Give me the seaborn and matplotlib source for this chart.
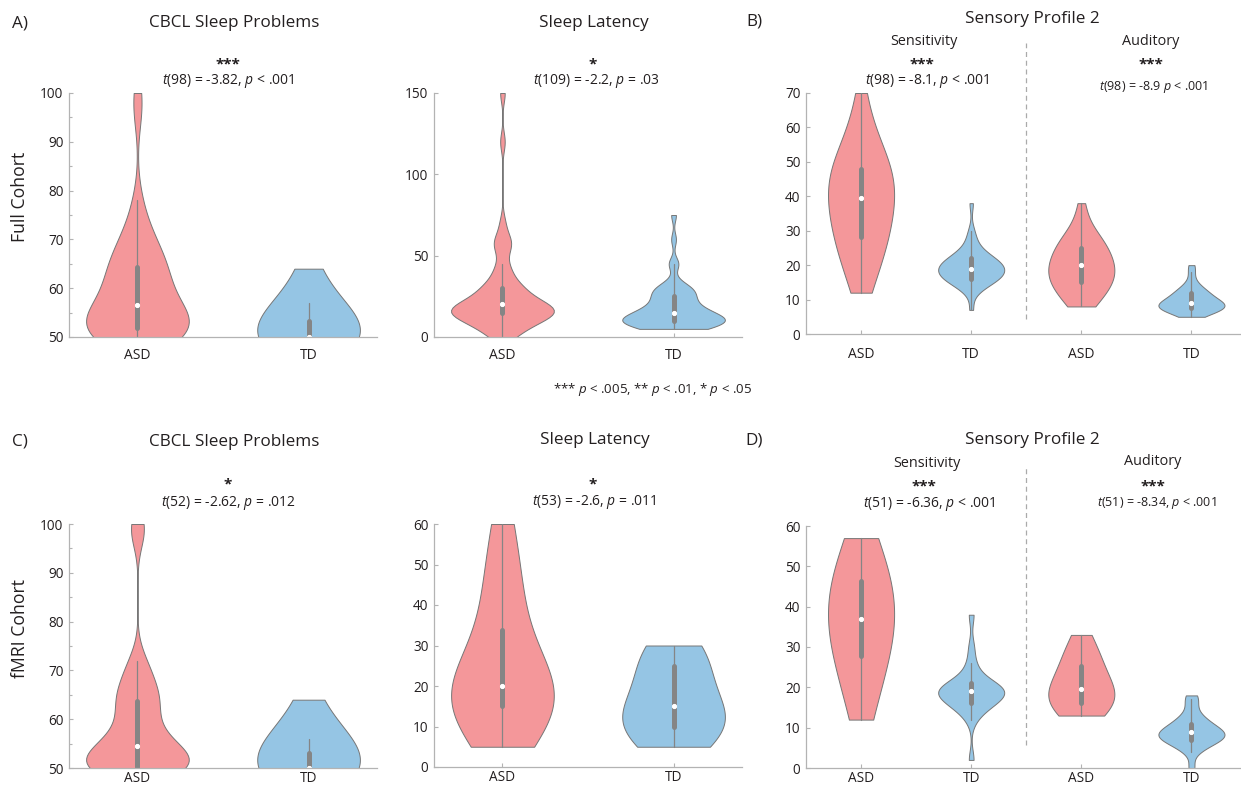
import matplotlib
matplotlib.use("Agg")
import matplotlib.pyplot as plt
import seaborn as sns
from matplotlib.ticker import MultipleLocator

# ---------------- data ----------------
groups = ["ASD", "TD"]
sp2_keys = ["Sens_ASD", "Sens_TD", "Aud_ASD", "Aud_TD"]
sp2_labels = ["ASD", "TD", "ASD", "TD"]

full_cbcl_asd = [50]*6 + [51]*5 + [52]*3 + [53]*2 + [54, 54, 55, 55, 56, 56, 57, 58, 58, 59, 60, 61, 62,
                 63, 63, 64, 64, 65, 66, 67, 68, 69, 70, 72, 74, 78, 96, 100]
full_cbcl_td = [50]*22 + [51]*3 + [52]*3 + [53]*2 + [54, 55, 56, 57, 59, 60, 61, 62, 63, 64]

full_lat_asd = [0, 0, 5, 5, 5, 5] + [10]*5 + [15]*12 + [20]*8 + [25]*3 + [30]*5 + \
               [35, 40, 40, 45, 55, 55, 60, 60, 70, 120, 150]
full_lat_td = [5]*8 + [10]*14 + [15]*9 + [20]*5 + [25]*5 + [30]*5 + [35, 45, 45, 60, 75]

full_sens_asd = [12, 14, 15, 17, 19, 21, 23, 24, 25, 26, 27, 28, 29, 30, 31, 32, 33, 34, 35, 36, 37, 38, 39,
                 40, 40, 41, 42, 43, 44, 45, 45, 46, 47, 48, 48, 49, 50, 51, 52, 53, 55, 57, 59, 62, 66, 70]
full_sens_td = [7, 12, 13, 14, 15, 15, 15, 16, 16, 16, 16, 17, 17, 17, 18, 18, 18, 18, 19, 19, 19, 19,
                20, 20, 20, 20, 21, 21, 21, 22, 22, 22, 23, 23, 24, 25, 26, 28, 30, 38]
full_aud_asd = [8, 8, 9, 10, 10, 11, 12, 13, 13, 14, 14, 15, 15, 15, 16, 16, 17, 17, 18, 18, 18, 19, 20, 20,
                20, 21, 21, 21, 22, 22, 23, 24, 25, 25, 25, 26, 26, 27, 28, 28, 29, 30, 32, 35, 38]
full_aud_td = [5, 6, 6, 7, 7, 7, 7, 7, 8, 8, 8, 8, 8, 9, 9, 9, 9, 9, 10, 10, 10, 11, 12, 12, 12, 12,
               13, 14, 15, 18, 20]

fmri_cbcl_asd = [50]*8 + [51, 51, 52, 52, 53, 54, 54, 55, 56, 57, 58, 60, 62, 63, 64, 65, 66, 68, 70, 72, 98, 100]
fmri_cbcl_td = [50]*13 + [51, 51, 52, 52, 53, 53, 55, 56, 58, 60, 62, 64]

fmri_lat_asd = [5, 5, 10, 10, 10] + [15]*5 + [20]*5 + [25, 25, 30, 30, 35, 40, 45, 45, 50, 60, 60]
fmri_lat_td = [5]*4 + [10]*6 + [12] + [15]*4 + [17, 20, 20] + [25]*4 + [30]*4

fmri_sens_asd = [12, 14, 17, 20, 22, 25, 27, 28, 30, 31, 33, 35, 36, 37, 37, 38, 40, 41, 42, 45, 46, 47,
                 48, 50, 52, 54, 56, 57]
fmri_sens_td = [2, 12, 14, 15, 16, 16, 16, 17, 18, 18, 18, 19, 19, 19, 19, 20, 20, 20, 21, 21, 22, 24, 26, 30, 38]
fmri_aud_asd = [13, 13, 14, 15, 15, 15, 16, 16, 17, 17, 18, 18, 19, 19, 20, 20, 21, 22, 23, 24, 25, 26,
                27, 28, 29, 30, 32, 33]
fmri_aud_td = [0, 4, 5, 6, 6, 7, 7, 7, 8, 8, 8, 8, 9, 9, 9, 10, 10, 10, 11, 12, 12, 13, 15, 17, 18]

# ---------------- style ----------------
ASD_C = "#F4979A"
TD_C = "#95C5E4"
TXT = "#231f20"
SPINE = "#b3b3b3"

sns.set_theme(style="ticks")
plt.rcParams["font.family"] = ["Open Sans", "DejaVu Sans"]
plt.rcParams["mathtext.fontset"] = "custom"
plt.rcParams["mathtext.it"] = "Open Sans:italic"
plt.rcParams["mathtext.rm"] = "Open Sans"
plt.rcParams["mathtext.bf"] = "Open Sans:bold"

W, H = 1241, 789
fig = plt.figure(figsize=(W / 100, H / 100), dpi=100)
fig.patch.set_facecolor("white")


def add_ax(l, t, r, b):
    return fig.add_axes([l / W, 1 - b / H, (r - l) / W, (b - t) / H])


def violin(ax, values, key, order, color, bw):
    sns.violinplot(x=[key] * len(values), y=values, order=order, color=color, ax=ax,
                   width=0.6, cut=0, density_norm="width", bw_adjust=bw, saturation=1,
                   inner="box",
                   inner_kws=dict(box_width=3.6, whis_width=0.9, marker="o", color="#858585"),
                   linecolor="#767676", linewidth=0.7)


def style(ax, ylim, yticks, xlim, xlabels, minor=None, xpad=8, xsize=10):
    ax.set_ylim(*ylim)
    ax.set_yticks(yticks)
    ax.set_xlim(*xlim)
    ax.set_xticks(range(len(xlabels)))
    ax.set_xticklabels(xlabels)
    if minor:
        ax.yaxis.set_minor_locator(MultipleLocator(minor))
    for s in ["top", "right"]:
        ax.spines[s].set_visible(False)
    for s in ["left", "bottom"]:
        ax.spines[s].set_color(SPINE)
        ax.spines[s].set_linewidth(0.9)
    ax.tick_params(axis="y", which="major", direction="in", length=3, width=0.8, color=SPINE,
                   labelsize=9.8, labelcolor=TXT, pad=4, left=True)
    ax.tick_params(axis="y", which="minor", direction="in", length=2.5, width=0.8, color=SPINE, left=True)
    ax.tick_params(axis="x", direction="in", length=3, width=0.8, color=SPINE,
                   labelsize=xsize, labelcolor=TXT, pad=xpad, bottom=True)
    ax.set_xlabel("")
    ax.set_ylabel("")
    ax.set_facecolor("none")


def T(x, y, s, size, **kw):
    fig.text(x / W, 1 - y / H, s, ha=kw.pop("ha", "center"), va=kw.pop("va", "baseline"),
             fontsize=size, color=TXT, **kw)


def stat(t_df, t_val, p_txt):
    return r"$t$" + f"({t_df}) = {t_val}, " + r"$p$" + f" {p_txt}"


# ---------------- Row 1: full cohort ----------------
ax = add_ax(69, 93, 377, 337)
violin(ax, full_cbcl_asd, "ASD", groups, ASD_C, 0.85)
violin(ax, full_cbcl_td, "TD", groups, TD_C, 3.0)
style(ax, (50, 100), [50, 60, 70, 80, 90, 100], (-0.4, 1.4), groups, minor=5)

ax = add_ax(434, 93, 742, 337)
violin(ax, full_lat_asd, "ASD", groups, ASD_C, 0.45)
violin(ax, full_lat_td, "TD", groups, TD_C, 0.6)
style(ax, (0, 150), [0, 50, 100, 150], (-0.4, 1.4), groups)

ax = add_ax(806, 93, 1241, 334)
violin(ax, full_sens_asd, "Sens_ASD", sp2_keys, ASD_C, 1.3)
violin(ax, full_sens_td, "Sens_TD", sp2_keys, TD_C, 0.9)
violin(ax, full_aud_asd, "Aud_ASD", sp2_keys, ASD_C, 1.2)
violin(ax, full_aud_td, "Aud_TD", sp2_keys, TD_C, 1.0)
style(ax, (0, 70), [0, 10, 20, 30, 40, 50, 60, 70], (-0.5, 3.45), sp2_labels, xpad=9)
ax.plot([1.5, 1.5], [(334 - 319) / 241, (334 - 43) / 241], transform=ax.get_xaxis_transform(),
        clip_on=False, color="#aaaaaa", lw=0.9, ls=(0, (4, 3)))

# ---------------- Row 2: fMRI cohort ----------------
ax = add_ax(69, 524, 377, 768)
violin(ax, fmri_cbcl_asd, "ASD", groups, ASD_C, 0.55)
violin(ax, fmri_cbcl_td, "TD", groups, TD_C, 3.0)
style(ax, (50, 100), [50, 60, 70, 80, 90, 100], (-0.4, 1.4), groups, minor=5, xpad=2, xsize=9.8)

ax = add_ax(434, 524, 742, 767)
violin(ax, fmri_lat_asd, "ASD", groups, ASD_C, 1.2)
violin(ax, fmri_lat_td, "TD", groups, TD_C, 1.4)
style(ax, (0, 60), [0, 10, 20, 30, 40, 50, 60], (-0.4, 1.4), groups, xpad=2, xsize=9.8)

ax = add_ax(806, 526, 1241, 768)
violin(ax, fmri_sens_asd, "Sens_ASD", sp2_keys, ASD_C, 1.6)
violin(ax, fmri_sens_td, "Sens_TD", sp2_keys, TD_C, 0.7)
violin(ax, fmri_aud_asd, "Aud_ASD", sp2_keys, ASD_C, 1.5)
violin(ax, fmri_aud_td, "Aud_TD", sp2_keys, TD_C, 0.8)
style(ax, (0, 60), [0, 10, 20, 30, 40, 50, 60], (-0.5, 3.45), sp2_labels, xpad=2, xsize=9.8)
ax.plot([1.5, 1.5], [(768 - 745) / 242, (768 - 467) / 242], transform=ax.get_xaxis_transform(),
        clip_on=False, color="#aaaaaa", lw=0.9, ls=(0, (4, 3)))

# ---------------- text ----------------
TS = 12.3
# row 1
T(20, 27, "A)", TS)
T(234, 27, "CBCL Sleep Problems", TS)
T(228, 68, "***", 11, weight="bold")
T(228, 84, stat(98, "-3.82", "< .001"), 10)
T(594, 27, "Sleep Latency", TS)
T(593, 68, "*", 11, weight="bold")
T(596, 84, stat(109, "-2.2", "= .03"), 10)
T(652, 393, r"*** $p$ < .005, ** $p$ < .01, * $p$ < .05", 9.5)
T(754, 26, "B)", TS)
T(1032, 23, "Sensory Profile 2", TS)
T(924, 45, "Sensitivity", 10.4)
T(922, 68, "***", 11, weight="bold")
T(927, 84, stat(98, "-8.1", "< .001"), 10)
T(1151, 45, "Auditory", 10.4)
T(1151, 68, "***", 11, weight="bold")
T(1154, 90, r"$t$(98) = -8.9 $p$ < .001", 9)
fig.text(20 / W, 1 - 197 / H, "Full Cohort", rotation=90, ha="center", va="center", fontsize=12.7, color=TXT)

# row 2
T(20, 445, "C)", TS)
T(234, 446, "CBCL Sleep Problems", TS)
T(228, 488, "*", 11, weight="bold")
T(228, 506, stat(52, "-2.62", "= .012"), 10)
T(595, 444, "Sleep Latency", TS)
T(593, 488, "*", 11, weight="bold")
T(594, 505, stat(53, "-2.6", "= .011"), 10)
T(754, 444, "D)", TS)
T(1032, 444, "Sensory Profile 2", TS)
T(927, 467, "Sensitivity", 10.4)
T(924, 490, "***", 11, weight="bold")
T(929, 507, stat(51, "-6.36", "< .001"), 10)
T(1153, 465, "Auditory", 10.4)
T(1153, 490, "***", 11, weight="bold")
T(1157, 506, stat(51, "-8.34", "< .001"), 9)
fig.text(20 / W, 1 - 628 / H, "fMRI Cohort", rotation=90, ha="center", va="center", fontsize=12.7, color=TXT)

fig.savefig("out.png", dpi=100, facecolor="white")
